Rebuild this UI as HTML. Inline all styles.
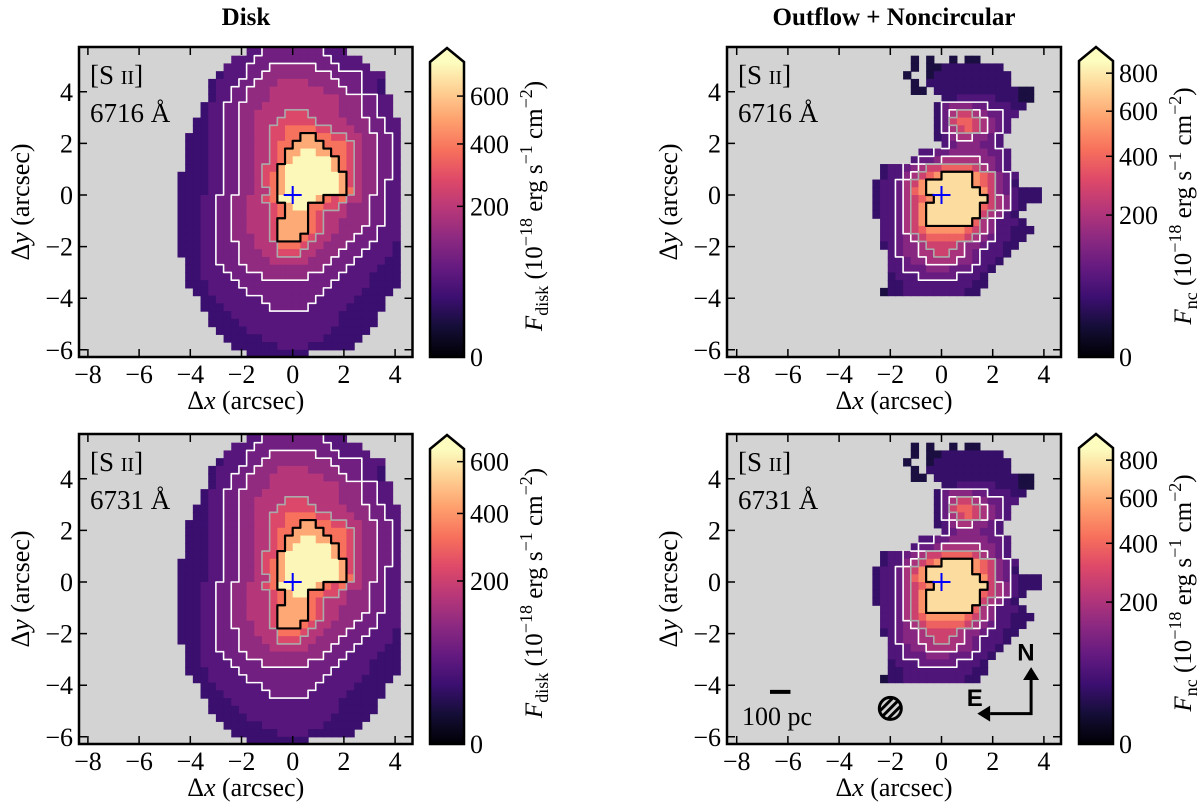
<!DOCTYPE html>
<html><head><meta charset="utf-8"><style>
html,body{margin:0;padding:0;background:#fff;}
svg{display:block;}
svg text{font-family:"Liberation Serif","DejaVu Serif",serif;}
svg text.sans{font-family:"Liberation Sans","DejaVu Sans",sans-serif;}
</style></head><body>
<svg id="fig" width="1200" height="808" viewBox="0 0 1200 808" xmlns="http://www.w3.org/2000/svg">
<text x="246" y="25" font-size="25" font-weight="bold" text-anchor="middle">Disk</text>
<text x="894" y="25" font-size="25" font-weight="bold" text-anchor="middle">Outflow + Noncircular</text>
</svg>
<script>
// ---- data ----
const levelChars = "0123456789";
const levelFlux = [12, 30, 55, 85, 130, 190, 270, 380, 520, 750];
const gridX0 = -4.5, gridY0 = 5.7, cellSize = 0.3;
const diskRows = [
".........2233333333222.......",
".......22233333333332222.....",
"......2223334444443332222....",
".....1222334444444443333222..",
"....12223344455554444333221..",
"....12233444555555544433221..",
"....122334445555555554443322.",
"...1223344455555555554443322.",
"...1223344555566655554443322.",
"..112233445556666655554443322",
"..112233445566777766555443322",
".1112233445566778877665544332",
".1112233445567788887776544332",
".1112233445567889988776544332",
".1112233445567899999876544332",
".1112233445668999999876544332",
"11112233445678999999986544332",
"11112233445678999999986544322",
"11112233445578999999987544322",
"11122334455679999987675543322",
"11122334455567899776654443322",
"11122334455567888765554443322",
"11122334455568888765544443322",
"11122334455568888765544433222",
"11122334445568887655444333222",
"11122333445557776554443332221",
"11122333444556665544433322221",
".1122333444455555444333222211",
".1122233344444444443332222111",
".1122223333444444333322221111",
".1112222333333333333222221111",
"..11222223333333333222221111.",
"...112222223333333222221111..",
"...111222222333332222211111..",
"....1112222222222222211111...",
"....1111222222222222211111...",
".....11112222222222211111....",
"......111112222222211111.....",
".......1111112222111111......",
".........11111111............"
];
const ncRows = [
".............................",
"...........0.0..0.00.........",
"...........0.0011111111......",
"..........0..01111111111.....",
"...........0.11111111111.....",
"...........00.1111111111100..",
"...............112222211100..",
"..............134443322211...",
"..............13566543322....",
"..............1367765432.....",
"..............1356765432.....",
"..............124554432......",
"...............23444332......",
"............223344444332.....",
"...........2334555554432.....",
".......12234566777765432.....",
".......122456789999876432....",
"......1223568999999876431....",
"......1223578999999986432111.",
"......1223567899999996542111.",
"......12235689999999765421...",
"......1223568999999965421....",
".......2235689999997542221...",
".......22356788888765422111..",
".......2234567777765432211...",
".......123445666654432211....",
"........2344556655432221.....",
"........223445555443221......",
"........22333444333221.......",
"........1222333332221........",
"........1122222222211........",
".......0112222222211........."
];
const panelScale = [1.0, 1.0, 0.85, 1.0];
const panelVmax = [767, 870, 655, 870];
const cbarTicks = [[0,200,400,600],[0,200,400,600,800],[0,200,400,600],[0,200,400,600,800]];
const xTicks = [-8,-6,-4,-2,0,2,4];
const yTicks = [-6,-4,-2,0,2,4];
const lineLabels = ["6716 Å","6716 Å","6731 Å","6731 Å"];

// ---- layout ----
const NS = "http://www.w3.org/2000/svg";
const svg = document.getElementById('fig');
const SX = 25.6, SY = 25.8;
const panels = [
  {x0:292.7, y0:195, L:79,  R:412.5, T:47,  B:357, cb:430, cbTop:62,  rows:diskRows, cbl:"disk", name:"disk-6716"},
  {x0:941.5, y0:195, L:727, R:1061,  T:47,  B:357, cb:1079, cbTop:61, rows:ncRows,   cbl:"nc",   name:"nc-6716"},
  {x0:292.7, y0:582, L:79,  R:412.5, T:434, B:744, cb:430, cbTop:449, rows:diskRows, cbl:"disk", name:"disk-6731"},
  {x0:941.5, y0:582, L:727, R:1061,  T:434, B:744, cb:1079, cbTop:448,rows:ncRows,   cbl:"nc",   name:"nc-6731"}
];
const magmaStops = ["#000004","#140e36","#3b0f70","#641a80","#8c2981","#b73779","#de4968","#f7705c","#fe9f6d","#fecf92","#fcfdbf"];
function hex(h){return [1,3,5].map(i=>parseInt(h.substr(i,2),16));}
function magma(t){
  t=Math.max(0,Math.min(1,t)); const f=t*10, i=Math.min(9,Math.floor(f)), u=f-i;
  const a=hex(magmaStops[i]), b=hex(magmaStops[i+1]);
  return "rgb("+a.map((v,k)=>Math.round(v+(b[k]-v)*u)).join(",")+")";
}
function el(tag, attrs, parent){
  const e=document.createElementNS(NS,tag);
  for(const k in attrs) e.setAttribute(k,attrs[k]);
  (parent||svg).appendChild(e); return e;
}
function lvl(rows,r,c){
  if(r<0||r>=rows.length) return -1;
  const ch=rows[r][c]; if(ch===undefined) return -1;
  return levelChars.indexOf(ch);
}

panels.forEach((p,pi)=>{
  const px=x=>p.x0+SX*x, py=y=>p.y0-SY*y;
  const g=el('g',{});
  
  
  const cid='clip'+pi;
  const cp=el('clipPath',{id:cid},g); el('rect',{x:p.L,y:p.T,width:p.R-p.L,height:p.B-p.T},cp);
  const bg=el('rect',{x:p.L,y:p.T,width:p.R-p.L,height:p.B-p.T,fill:'#d3d3d3'},g);
  
  
  const hm=el('g',{'clip-path':'url(#'+cid+')'},g);
  
  
  const rows=p.rows, vmax=panelVmax[pi], sc=panelScale[pi];
  for(let r=0;r<rows.length;r++) for(let c=0;c<rows[r].length;c++){
    const L=lvl(rows,r,c); if(L<0) continue;
    const v=levelFlux[L]*sc;
    const x=px(gridX0+cellSize*c), y=py(gridY0-cellSize*r);
    const cell=el('rect',{x:x.toFixed(2),y:y.toFixed(2),width:(cellSize*SX+0.6).toFixed(2),height:(cellSize*SY+0.6).toFixed(2),fill:magma(Math.sqrt(Math.min(v/vmax,1)))},hm);
    
    
  }
  const conts = p.cbl==="disk" ? [[3,'#ffffff',1.6],[4,'#ffffff',1.6],[6,'#aaaaaa',1.6],[8,'#000000',2.2]]
                               : [[3,'#ffffff',1.6],[5,'#ffffff',1.6],[6,'#aaaaaa',1.6],[9,'#000000',2.2]];
  conts.forEach(([t,col,w])=>{
    let d="";
    for(let r=0;r<rows.length;r++) for(let c=0;c<rows[r].length;c++){
      if(lvl(rows,r,c)<t) continue;
      const x1=px(gridX0+cellSize*c), x2=px(gridX0+cellSize*(c+1));
      const y1=py(gridY0-cellSize*r), y2=py(gridY0-cellSize*(r+1));
      const out=(rr,cc)=>{const L=lvl(rows,rr,cc); return L>=0 && L<t;};
      if(out(r-1,c)) d+=`M${x1} ${y1}H${x2}`;
      if(out(r+1,c)) d+=`M${x1} ${y2}H${x2}`;
      if(out(r,c-1)) d+=`M${x1} ${y1}V${y2}`;
      if(out(r,c+1)) d+=`M${x2} ${y1}V${y2}`;
    }
    const cl=el('path',{d:d,stroke:col,'stroke-width':w,fill:'none','stroke-linecap':'round'},hm);
    
    
  });
  const cross=el('path',{d:`M${px(0)-9} ${py(0)}H${px(0)+9}M${px(0)} ${py(0)-9}V${py(0)+9}`,stroke:'#0000ff','stroke-width':2},g);
  
  
  let td="";
  xTicks.forEach(v=>{const x=px(v); td+=`M${x} ${p.B}V${p.B-8}M${x} ${p.T}V${p.T+8}`;});
  yTicks.forEach(v=>{const y=py(v); td+=`M${p.L} ${y}H${p.L+8}M${p.R} ${y}H${p.R-8}`;});
  el('path',{d:td,stroke:'#000','stroke-width':1.5},g);
  const frame=el('rect',{x:p.L,y:p.T,width:p.R-p.L,height:p.B-p.T,fill:'none',stroke:'#000','stroke-width':2.5},g);
  
  
  xTicks.forEach(v=>{
    const t=el('text',{x:px(v),y:p.B+26,'font-size':26,'text-anchor':'middle'},g);
    t.textContent=(v<0?"−":"")+Math.abs(v);
    
    
  });
  yTicks.forEach(v=>{
    const t=el('text',{x:p.L-6,y:py(v)+9,'font-size':26,'text-anchor':'end'},g);
    t.textContent=(v<0?"−":"")+Math.abs(v);
    
    
  });
  const xl=el('text',{x:(p.L+p.R)/2,y:p.B+52,'font-size':26,'text-anchor':'middle'},g);
  xl.innerHTML='Δ<tspan font-style="italic">x</tspan> (arcsec)';
  
  
  const yl=el('text',{x:0,y:0,'font-size':26,'text-anchor':'middle',transform:`translate(${p.L-50},${(p.T+p.B)/2}) rotate(-90)`},g);
  yl.innerHTML='Δ<tspan font-style="italic">y</tspan> (arcsec)';
  
  
  const ll=el('text',{x:p.L+11,y:p.T+37,'font-size':27},g);
  ll.innerHTML='[S <tspan font-size="20">II</tspan>]';
  
  
  const wl=el('text',{x:p.L+11,y:p.T+75,'font-size':27},g);
  wl.textContent=lineLabels[pi];
  
  
  const cbW=34, cbB=p.B, cbH=cbB-p.cbTop;
  const gid='grad'+pi;
  const lg=el('linearGradient',{id:gid,x1:0,y1:1,x2:0,y2:0},g);
  magmaStops.forEach((s,i)=>el('stop',{offset:i/10,'stop-color':s},lg));
  const cb=el('rect',{x:p.cb,y:p.cbTop,width:cbW,height:cbH,fill:'url(#'+gid+')'},g);
  
  
  el('path',{d:`M${p.cb} ${p.cbTop}L${p.cb+cbW/2} ${p.cbTop-14}L${p.cb+cbW} ${p.cbTop}Z`,fill:'#fcfdbf'},g);
  el('path',{d:`M${p.cb} ${cbB}V${p.cbTop}L${p.cb+cbW/2} ${p.cbTop-14}L${p.cb+cbW} ${p.cbTop}V${cbB}Z`,fill:'none',stroke:'#000','stroke-width':2.5},g);
  cbarTicks[pi].forEach(v=>{
    const y=cbB-cbH*Math.sqrt(v/vmax);
    el('path',{d:`M${p.cb+cbW-7} ${y}H${p.cb+cbW}`,stroke:'#000','stroke-width':1.5},g);
    const t=el('text',{x:p.cb+cbW+6,y:y+9,'font-size':26},g);
    t.textContent=v;
    
    
  });
  const cl=el('text',{x:0,y:0,'font-size':25,'text-anchor':'middle',transform:`translate(${p.cb+112},${(p.T+p.B)/2+4}) rotate(-90)`},g);
  cl.innerHTML='<tspan font-style="italic">F</tspan><tspan font-size="18" dy="6">'+p.cbl+'</tspan><tspan dy="-6"> (10</tspan><tspan font-size="18" dy="-10">−18</tspan><tspan dy="10"> erg s</tspan><tspan font-size="18" dy="-10">−1</tspan><tspan dy="10"> cm</tspan><tspan font-size="18" dy="-10">−2</tspan><tspan dy="10">)</tspan>';
  
  

  if(pi===3){
    const sb=el('path',{d:`M${px(-6.7)} ${py(-4.26)}H${px(-5.9)}`,stroke:'#000','stroke-width':4},g);
    
    
    const st=el('text',{x:742,y:725,'font-size':26},g); st.textContent='100 pc';
    
    
    const bx=px(-2.0), by=py(-4.9);
    const bcp=el('clipPath',{id:'beamclip'},g); el('circle',{cx:bx,cy:by,r:11},bcp);
    const bm=el('g',{},g);
    
    
    el('path',{d:`M${bx-14} ${by+6}L${bx+6} ${by-14}M${bx-10} ${by+10}L${bx+10} ${by-10}M${bx-6} ${by+14}L${bx+14} ${by-6}`,stroke:'#000','stroke-width':3,'clip-path':'url(#beamclip)'},bm);
    el('circle',{cx:bx,cy:by,r:11,fill:'none',stroke:'#000','stroke-width':3},bm);
    const cx=px(3.5), cy=py(-5.1);
    const cm=el('g',{},g);
    
    
    el('path',{d:`M${px(1.9)} ${cy}H${cx}V${py(-3.8)}`,stroke:'#000','stroke-width':3,fill:'none'},cm);
    el('path',{d:`M${cx-8} ${py(-3.8)}L${cx} ${py(-3.3)}L${cx+8} ${py(-3.8)}Z`,fill:'#000'},cm);
    el('path',{d:`M${px(1.9)} ${cy-8}L${px(1.4)} ${cy}L${px(1.9)} ${cy+8}Z`,fill:'#000'},cm);
    const n=el('text',{x:px(3.3),y:py(-3.05),'font-size':24,'font-weight':'bold','class':'sans','text-anchor':'middle'},cm); n.textContent='N';
    const e=el('text',{x:px(1.3),y:py(-4.8),'font-size':24,'font-weight':'bold','class':'sans','text-anchor':'middle'},cm); e.textContent='E';
  }
});
</script>
</body></html>
